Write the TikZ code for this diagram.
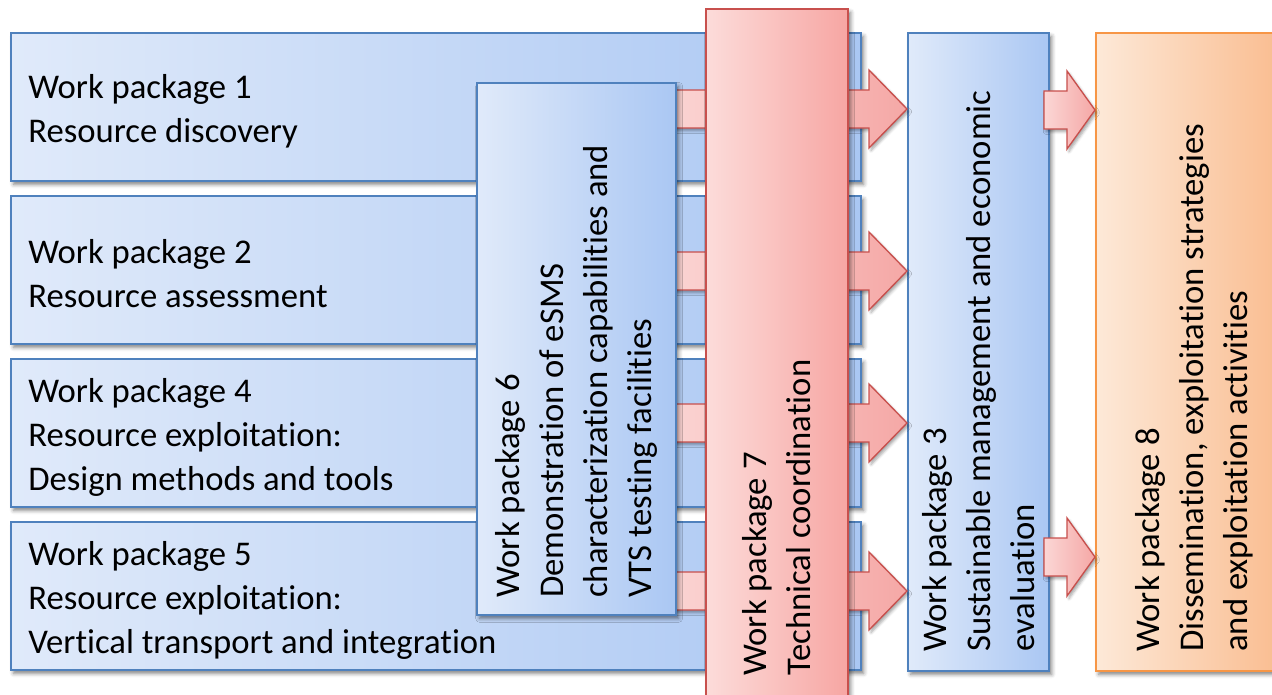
\documentclass[tikz,border=0pt]{standalone}
\usepackage{fontspec}
\setmainfont{Carlito}[Ligatures=NoCommon]
\usetikzlibrary{calc,shadows.blur}

\definecolor{wpblueline}{RGB}{79,129,189}
\definecolor{wpbluelight}{RGB}{224,234,250}
\definecolor{wpbluedark}{RGB}{170,199,243}
\definecolor{wpredline}{RGB}{200,80,77}
\definecolor{wpredlight}{RGB}{252,220,218}
\definecolor{wpredmid}{RGB}{250,196,194}
\definecolor{wpreddark}{RGB}{247,166,163}
\definecolor{wporangeline}{RGB}{247,150,70}
\definecolor{wporangelight}{RGB}{253,233,216}
\definecolor{wporangedark}{RGB}{249,186,140}
\definecolor{arrowlight}{RGB}{251,214,213}
\definecolor{arrowdark}{RGB}{245,168,166}

\tikzset{
  wpbox/.style={draw, line width=1.5pt, inner sep=0pt, anchor=north west,
    blur shadow={shadow xshift=2pt, shadow yshift=-2.5pt, shadow blur radius=3pt, shadow opacity=50}},
  wpblue/.style={wpbox, draw=wpblueline, left color=wpbluelight, right color=wpbluedark},
  wpred/.style={wpbox, draw=wpredline, left color=wpredlight, middle color=wpredmid, right color=wpreddark},
  wporange/.style={wpbox, draw=wporangeline, left color=wporangelight, right color=wporangedark},
  wptext/.style={inner sep=0pt, align=left, anchor=west, font=\fontsize{26}{33}\selectfont},
  wpvtext/.style={wptext, rotate=90},
  fatarrow/.style={draw=wpredline, line width=1pt, line join=miter,
    left color=arrowlight, right color=arrowdark,
    blur shadow={shadow xshift=1.5pt, shadow yshift=-2pt, shadow blur radius=2pt, shadow opacity=35}},
}

% block arrow: tail coordinate, head node, y level, head length
\newcommand{\fatarrow}[4]{%
  \draw[fatarrow]
    ($(#1 |- 0,#3)+(0,-19)$) -- ($(#2.west |- 0,#3)+(-#4,-19)$)
    -- ($(#2.west |- 0,#3)+(-#4,-39)$) -- (#2.west |- 0,#3)
    -- ($(#2.west |- 0,#3)+(-#4,39)$) -- ($(#2.west |- 0,#3)+(-#4,19)$)
    -- ($(#1 |- 0,#3)+(0,19)$) -- cycle;}

\begin{document}
\begin{tikzpicture}[x=0.75pt,y=0.75pt,yscale=-1,xscale=1]
\useasboundingbox (0,0) rectangle (1272,694);

% rows of work packages 1, 2, 4, 5
\node[wpblue, minimum width=637.5pt, minimum height=111pt] (wp1) at (10,32) {};
\node[wpblue, minimum width=637.5pt, minimum height=111pt] (wp2) at (10,195) {};
\node[wpblue, minimum width=637.5pt, minimum height=111pt] (wp4) at (10,358) {};
\node[wpblue, minimum width=637.5pt, minimum height=111pt] (wp5) at (10,521) {};

\node[wptext] (wp1text) at ([xshift=13.5pt,yshift=3pt]wp1.west) {Work package 1\\Resource discovery};
\node[wptext] (wp2text) at ([xshift=13.5pt,yshift=3pt]wp2.west) {Work package 2\\Resource assessment};
\node[wptext] (wp4text) at ([xshift=13.5pt,yshift=3pt]wp4.west) {Work package 4\\Resource exploitation:\\Design methods and tools};
\node[wptext] (wp5text) at ([xshift=13.5pt,yshift=3pt]wp5.west) {Work package 5\\Resource exploitation:\\Vertical transport and integration};

% right hand columns
\node[wpblue, minimum width=105.75pt, minimum height=478.5pt] (wp3) at (907,32) {};
\node[wporange, minimum width=147pt, minimum height=478.5pt] (wp8) at (1095,32) {};

\node[wpvtext] (wp3text) at ([yshift=-15pt]wp3.south) {Work package 3\\Sustainable management and economic\\evaluation};
\node[wpvtext] (wp8text) at ([yshift=-15pt]wp8.south) {Work package 8\\Dissemination, exploitation strategies\\and exploitation activities};

% arrows into WP3, tails hidden behind WP6
\coordinate (tail) at (660,0);
\foreach \y in {109,271,423,591}
  \fatarrow{tail}{wp3}{\y}{38};

% arrows from WP3 to WP8
\coordinate (wp3out) at ([xshift=-4.5pt]wp3.east);
\fatarrow{wp3out}{wp8}{110}{28}
\fatarrow{wp3out}{wp8}{557}{28}

% WP6 and WP7 lie over the arrows
\node[wpblue, minimum width=149.25pt, minimum height=399pt] (wp6) at (476,82) {};
\node[wpred, minimum width=106.5pt, minimum height=528pt] (wp7) at (705,8) {};

\node[wpvtext] (wp6text) at ([yshift=-13.5pt]wp6.south) {Work package 6\\Demonstration of eSMS\\characterization capabilities and\\VTS testing facilities};
\node[wpvtext] (wp7text) at ([yshift=-28.5pt]wp7.south) {Work package 7\\Technical coordination};

\end{tikzpicture}
\end{document}
